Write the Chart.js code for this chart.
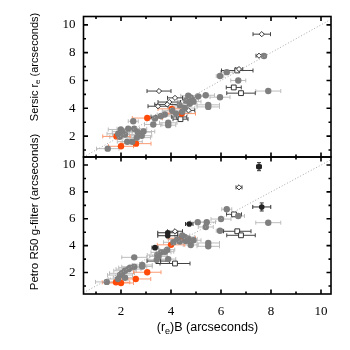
<!DOCTYPE html>
<html>
<head>
<meta charset="utf-8">
<script src="https://cdn.jsdelivr.net/npm/chart.js@4.4.0/dist/chart.umd.min.js"></script>
<style>
html, body { margin: 0; padding: 0; background: #fff; }
</style>
</head>
<body>
<canvas id="chart" width="350" height="350"></canvas>
<script>
// ---- data: [x, y, xErr, yErr] ----
var sersicGray = [
  [7.72,7.76,0.1], [6.23,6.60,0.25], [5.96,6.32,0.15], [6.69,6.00,0.3], [7.89,5.24,0.5],
  [4.69,4.90,0.3], [4.78,4.78,0.3], [4.85,4.62,0.25], [4.90,4.48,0.3], [4.75,4.33,0.25],
  [4.60,4.55,0.35], [5.09,4.86,0.3], [5.39,4.94,0.35], [5.96,4.80,0.4], [5.49,4.25,0.45],
  [5.49,4.10,0.45], [4.55,4.02,0.4], [4.35,4.22,0.3], [4.45,3.75,0.35], [4.20,3.62,0.45],
  [3.75,3.55,0.3], [4.05,3.82,0.4], [3.60,3.45,0.4], [3.36,3.27,0.3], [3.29,2.84,0.35],
  [3.89,2.96,0.35], [3.89,2.79,0.3], [2.49,3.07,0.2], [1.99,2.48,0.5], [2.29,2.53,0.45],
  [2.53,2.53,0.5], [1.89,2.17,0.45], [2.16,2.12,0.5], [2.67,2.29,0.55], [2.63,1.89,0.55],
  [2.25,1.60,0.4], [2.45,1.60,0.4], [1.47,1.10,0.45], [2.05,2.32,0.4], [2.90,2.33,0.45],
  [2.83,2.03,0.4], [1.95,1.95,0.4]
];
var sersicOrange = [
  [4.03,3.96,0.55], [4.43,3.62,0.55], [3.05,3.30,0.6], [1.82,1.98,0.55], [2.60,1.46,0.6], [2.00,1.27,0.5]
];
var sersicDiamond = [
  [7.63,9.33,0.35], [7.52,7.78,0.12], [6.72,6.82,0.15], [3.52,5.24,0.48], [4.16,4.75,0.3],
  [3.93,4.45,0.45], [3.85,4.28,0.5], [3.48,4.15,0.4], [4.70,3.85,0.25], [3.40,3.35,0.2]
];
var sersicSquare = [
  [6.65,6.72,0.63], [6.51,5.50,0.3], [6.80,5.09,0.57], [4.33,3.38,0.3], [4.38,3.22,0.3]
];

var petroGray = [
  [6.23,6.71,0.2], [6.69,6.21,0.25], [6.00,5.98,0.4], [7.89,5.71,0.5], [5.43,5.75,0.35],
  [5.07,5.75,0.3], [5.39,5.39,0.3], [5.96,5.11,0.15], [4.79,4.05,0.3], [5.49,4.20,0.45],
  [5.49,3.95,0.45], [4.55,4.65,0.4], [4.70,4.50,0.35], [4.90,4.40,0.3], [4.35,4.30,0.35],
  [4.10,4.25,0.4], [4.60,4.35,0.3], [3.85,3.70,0.3], [3.76,3.55,0.35], [3.60,3.50,0.4],
  [3.45,3.30,0.4], [3.50,3.20,0.35], [2.53,3.13,0.5], [3.43,2.95,0.35], [3.89,3.00,0.3],
  [2.85,2.56,0.4], [2.85,2.45,0.4], [2.36,2.36,0.45], [2.53,2.43,0.5], [2.16,2.13,0.45],
  [2.04,1.94,0.5], [1.96,1.81,0.5], [2.16,1.61,0.45], [1.88,1.52,0.4], [2.30,2.25,0.5],
  [1.43,1.30,0.45], [4.45,4.75,0.3], [4.25,4.45,0.35]
];
var petroOrange = [
  [4.43,4.55,0.55], [4.00,4.06,0.55], [3.05,2.02,0.55], [2.59,1.52,0.6], [1.80,1.27,0.55], [2.00,1.22,0.5]
];
var petroDiamond = [
  [6.72,8.34,0.12], [4.16,5.07,0.3]
];
var petroSquare = [
  [6.52,6.33,0.3], [6.65,5.07,0.55], [6.80,4.77,0.57], [3.49,2.85,0.45], [4.16,2.67,0.6]
];
var petroStar = [
  [7.52,9.88,0.1,0.3], [7.63,6.88,0.36,0.3], [4.73,5.61,0.15,0], [3.87,4.96,0.4,0],
  [3.87,4.74,0.4,0], [3.36,3.85,0.12,0]
];

var oneToOne = [[0.5,0.5],[10.5,10.5]];
var xTickValues = [2, 4, 6, 8, 10];
var yTickValues = [2, 4, 6, 8, 10];

var SERIF = '"Liberation Serif", "Times New Roman", serif';
var SANS = '"Liberation Sans", Arial, sans-serif';

function pts(rows) {
  return rows.map(function(r) { return { x: r[0], y: r[1], xe: r[2] || 0, ye: r[3] || 0 }; });
}

function markerSet(rows, axis, kind) {
  var st = {
    gray:    { pointStyle: 'circle',  pointRadius: 3.2, backgroundColor: '#7f7f7f', borderColor: '#7f7f7f', borderWidth: 0, errColor: '#bdbdbd' },
    orange:  { pointStyle: 'circle',  pointRadius: 3.2, backgroundColor: '#ff4a0a', borderColor: '#ff4a0a', borderWidth: 0, errColor: '#fb9a72' },
    diamond: { pointStyle: 'rectRot', pointRadius: 2.6, backgroundColor: '#fff',    borderColor: '#333',    borderWidth: 1, errColor: '#444' },
    square:  { pointStyle: 'rect',    pointRadius: 3.4, backgroundColor: '#fff',    borderColor: '#333',    borderWidth: 1, errColor: '#444' },
    star:    { pointStyle: 'circle',  pointRadius: 2.8, backgroundColor: '#222',    borderColor: '#222',    borderWidth: 0, errColor: '#333' }
  }[kind];
  st.data = pts(rows);
  st.yAxisID = axis;
  return st;
}

function diagonal(axis) {
  return { data: pts(oneToOne), yAxisID: axis, showLine: true, pointRadius: 0, borderColor: '#a8a8a8',
           borderWidth: 1, borderDash: [1, 2] };
}

// error bars drawn through the scales, under the markers
var errorBars = {
  id: 'errorBars',
  beforeDatasetsDraw: function(chart) {
    var ctx = chart.ctx, xs = chart.scales.x;
    chart.data.datasets.forEach(function(ds) {
      if (!ds.errColor) return;
      var ys = chart.scales[ds.yAxisID];
      ctx.save();
      ctx.strokeStyle = ds.errColor;
      ctx.lineWidth = 1;
      ds.data.forEach(function(p) {
        var px = xs.getPixelForValue(p.x), py = ys.getPixelForValue(p.y);
        ctx.beginPath();
        if (p.xe) {
          var a = xs.getPixelForValue(p.x - p.xe), b = xs.getPixelForValue(p.x + p.xe);
          ctx.moveTo(a, py); ctx.lineTo(b, py);
          ctx.moveTo(a, py - 2); ctx.lineTo(a, py + 2);
          ctx.moveTo(b, py - 2); ctx.lineTo(b, py + 2);
        }
        if (p.ye) {
          var c = ys.getPixelForValue(p.y - p.ye), d = ys.getPixelForValue(p.y + p.ye);
          ctx.moveTo(px, c); ctx.lineTo(px, d);
          ctx.moveTo(px - 2, c); ctx.lineTo(px + 2, c);
          ctx.moveTo(px - 2, d); ctx.lineTo(px + 2, d);
        }
        ctx.stroke();
      });
      ctx.restore();
    });
  }
};

// box + inward ticks on all four sides of each panel
var frame = {
  id: 'frame',
  afterDatasetsDraw: function(chart) {
    var ctx = chart.ctx, xs = chart.scales.x, area = chart.chartArea;
    ctx.save();
    ctx.strokeStyle = '#000';
    ctx.lineWidth = 1.6;
    ['yTop', 'yBot'].forEach(function(id) {
      var ys = chart.scales[id];
      ctx.strokeRect(area.left, ys.top, area.right - area.left, ys.bottom - ys.top);
      ctx.beginPath();
      for (var v = 1; v <= 10; v++) {
        var len = v % 2 ? 2.5 : 4.5;
        var px = xs.getPixelForValue(v);
        ctx.moveTo(px, ys.bottom); ctx.lineTo(px, ys.bottom - len);
        ctx.moveTo(px, ys.top); ctx.lineTo(px, ys.top + len);
        var py = ys.getPixelForValue(v);
        ctx.moveTo(area.left, py); ctx.lineTo(area.left + len, py);
        ctx.moveTo(area.right, py); ctx.lineTo(area.right - len, py);
      }
      ctx.stroke();
    });
    ctx.restore();
  }
};

function drawParts(ctx, parts, cx, cy, size, angle) {
  var base = size + 'px ' + SANS, small = (size * 0.72) + 'px ' + SANS, total = 0;
  parts.forEach(function(p) { ctx.font = p.sub ? small : base; p.w = ctx.measureText(p.t).width; total += p.w; });
  ctx.save();
  ctx.translate(cx, cy);
  ctx.rotate(angle);
  ctx.fillStyle = '#000';
  ctx.textAlign = 'left';
  ctx.textBaseline = 'middle';
  var x = -total / 2;
  parts.forEach(function(p) {
    ctx.font = p.sub ? small : base;
    ctx.fillText(p.t, x, p.sub ? size * 0.3 : 0);
    x += p.w;
  });
  ctx.restore();
}

var titles = {
  id: 'titles',
  afterDraw: function(chart) {
    var ctx = chart.ctx;
    drawParts(ctx, [{ t: 'Sersic r' }, { t: 'e', sub: true }, { t: ' (arcseconds)' }], 35, 67, 11, -Math.PI / 2);
    drawParts(ctx, [{ t: 'Petro R50 g-filter (arcseconds)' }], 35, 212, 11.5, -Math.PI / 2);
    drawParts(ctx, [{ t: '(r' }, { t: 'e', sub: true }, { t: ')B (arcseconds)' }], 207.5, 328, 12.5, 0);
  }
};

function yAxis(min, max, weight) {
  return {
    type: 'linear', position: 'left', stack: 'panels', stackWeight: weight, min: min, max: max,
    grid: { display: false, drawTicks: false }, border: { display: false },
    afterBuildTicks: function(s) { s.ticks = yTickValues.map(function(v) { return { value: v }; }); },
    afterFit: function(s) { s.width = 40; },
    ticks: { color: '#000', padding: 8, autoSkip: false, font: { family: SERIF, size: 13 } }
  };
}

new Chart(document.getElementById('chart'), {
  type: 'scatter',
  data: {
    datasets: [
      diagonal('yTop'),
      markerSet(sersicGray, 'yTop', 'gray'),
      markerSet(sersicOrange, 'yTop', 'orange'),
      markerSet(sersicDiamond, 'yTop', 'diamond'),
      markerSet(sersicSquare, 'yTop', 'square'),
      diagonal('yBot'),
      markerSet(petroGray, 'yBot', 'gray'),
      markerSet(petroOrange, 'yBot', 'orange'),
      markerSet(petroDiamond, 'yBot', 'diamond'),
      markerSet(petroSquare, 'yBot', 'square'),
      markerSet(petroStar, 'yBot', 'star')
    ]
  },
  options: {
    responsive: false, animation: false,
    layout: { padding: { left: 43.5, right: 19, top: 16.5, bottom: 26 } },
    plugins: { legend: { display: false }, tooltip: { enabled: false } },
    scales: {
      x: {
        type: 'linear', position: 'bottom', min: 0.5, max: 10.4,
        grid: { display: false, drawTicks: false }, border: { display: false },
        afterBuildTicks: function(s) { s.ticks = xTickValues.map(function(v) { return { value: v }; }); },
        afterFit: function(s) { s.height = 30; },
        ticks: { color: '#000', padding: 10, autoSkip: false, maxRotation: 0, font: { family: SERIF, size: 13 } }
      },
      yBot: yAxis(0.4, 10.6, 137),
      yTop: yAxis(0.5, 10.6, 140.5)
    }
  },
  plugins: [errorBars, frame, titles]
});
</script>
</body>
</html>
